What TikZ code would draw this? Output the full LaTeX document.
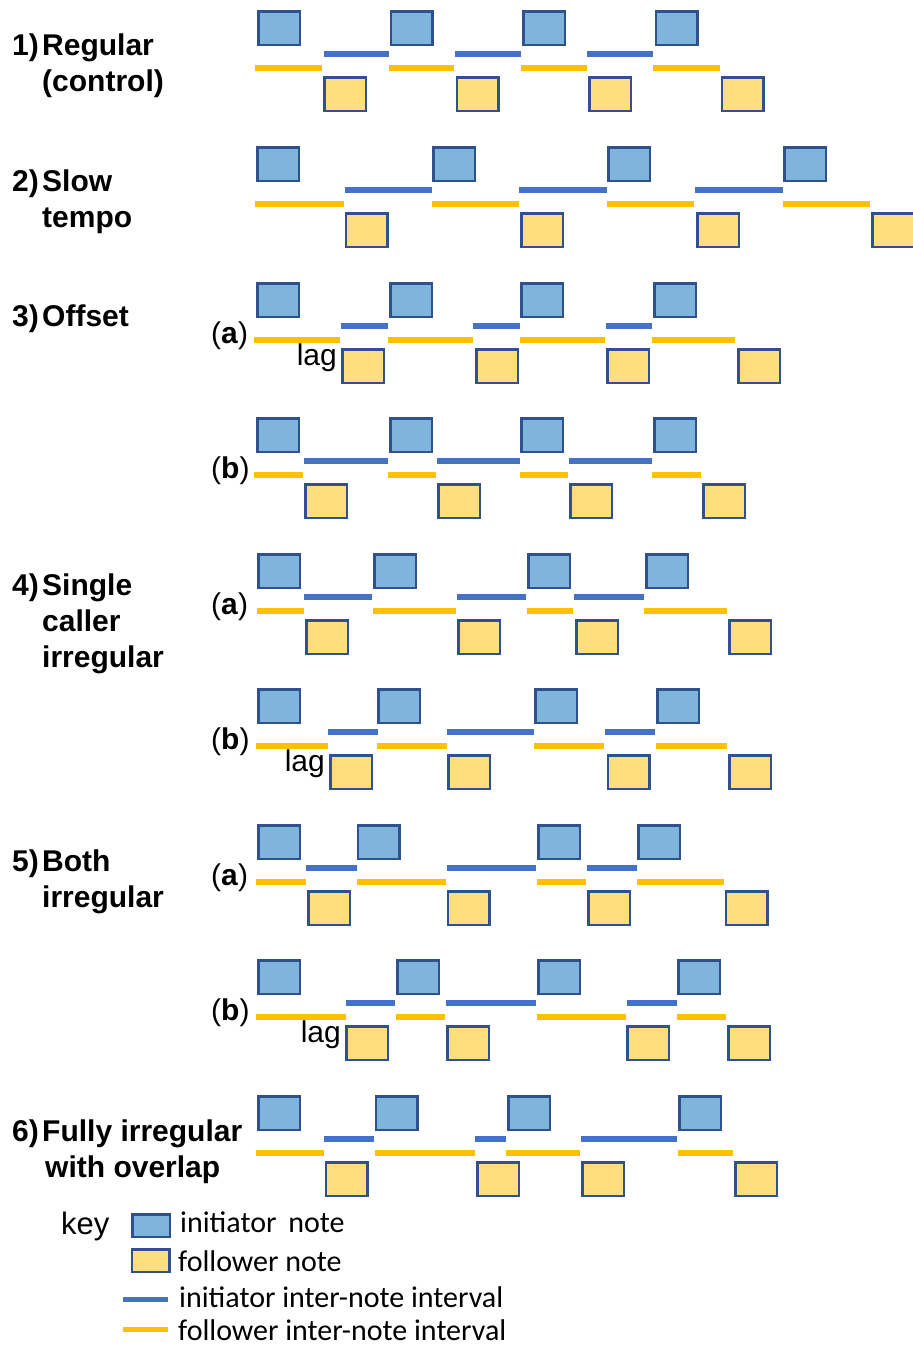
\documentclass[tikz,border=0pt]{standalone}
\usepackage{fontspec}
\setmainfont{Liberation Sans}
\newfontfamily\keyfont{Carlito}
\usetikzlibrary{positioning}
\definecolor{inifill}{RGB}{127,181,221}
\definecolor{folfill}{RGB}{255,222,128}
\definecolor{noteedge}{RGB}{47,82,143}
\definecolor{inibar}{RGB}{68,114,196}
\definecolor{folbar}{RGB}{255,192,0}

\begin{document}
\begin{tikzpicture}[x=1pt, y=-1pt,
  inote/.style={draw=noteedge, line width=2.5pt, fill=inifill, minimum width=41.5pt, minimum height=33.5pt, inner sep=0pt},
  fnote/.style={inote, fill=folfill},
  iint/.style={inibar, line width=5.5pt},
  fint/.style={folbar, line width=5.5pt},
  lbl/.style={anchor=base west, inner sep=0pt, font=\fontsize{30}{36}\selectfont\bfseries},
  sub/.style={anchor=base west, inner sep=0pt, font=\fontsize{30}{36}\selectfont},
  keytxt/.style={anchor=base west, inner sep=0pt, font=\keyfont\fontsize{30}{36}\selectfont}]
\useasboundingbox (0,0) rectangle (913,1345);

% labels of the conditions
\node[lbl] (n1) at (12,55) {1)};
\node[lbl] (t1) at (42,55) {Regular};
\node[lbl] (t1b) at (42,91) {(control)};
\node[lbl] (n2) at (12,191) {2)};
\node[lbl] (t2) at (42,191) {Slow};
\node[lbl] (t2b) at (42,227) {tempo};
\node[lbl] (n3) at (12,326) {3)};
\node[lbl] (t3) at (42,326) {Offset};
\node[lbl] (n4) at (12,595) {4)};
\node[lbl] (t4) at (42,595) {Single};
\node[lbl] (t4b) at (42,631) {caller};
\node[lbl] (t4c) at (42,667) {irregular};
\node[lbl] (n5) at (12,871) {5)};
\node[lbl] (t5) at (42,871) {Both};
\node[lbl] (t5b) at (42,907) {irregular};
\node[lbl] (n6) at (12,1141) {6)};
\node[lbl] (t6) at (42,1141) {Fully irregular};
\node[lbl] (t6b) at (45,1177) {with overlap};

\node[sub] (s3a) at (211,343) {(\textbf{a})};
\node[sub] (s3b) at (211,478) {(\textbf{b})};
\node[sub] (s4a) at (211,614) {(\textbf{a})};
\node[sub] (s4b) at (211,749) {(\textbf{b})};
\node[sub] (s5a) at (211,885) {(\textbf{a})};
\node[sub] (s5b) at (211,1020) {(\textbf{b})};

% 1) regular
\foreach \a/\b in {324/389, 455/521, 587/653} \draw[iint] (\a,54) -- (\b,54);
\foreach \a/\b in {255/322, 389/454, 521/587, 653/720} \draw[fint] (\a,68) -- (\b,68);
\foreach \x [count=\i] in {257,389.5,522,654.5} \node[inote] (r1i\i) at (\x+22,28) {};
\foreach \x [count=\i] in {323,455.5,588,720.5} \node[fnote] (r1f\i) at (\x+22,94) {};

% 2) slow tempo
\foreach \a/\b in {344.5/432, 519/606.5, 695/782.5} \draw[iint] (\a,190) -- (\b,190);
\foreach \a/\b in {255/344, 432/519, 607/694, 783/870} \draw[fint] (\a,204) -- (\b,204);
\foreach \x [count=\i] in {256,432,607,783} \node[inote] (r2i\i) at (\x+22,164) {};
\foreach \x [count=\i] in {344.5,520,696,871} \node[fnote] (r2f\i) at (\x+22,230) {};

% 3a) offset
\foreach \a/\b in {341/388, 473/520, 606/652} \draw[iint] (\a,326) -- (\b,326);
\foreach \a/\b in {254/340, 388/473, 520/605, 652/735} \draw[fint] (\a,340) -- (\b,340);
\foreach \x [count=\i] in {256,389,520,653} \node[inote] (r3ai\i) at (\x+22,300) {};
\foreach \x [count=\i] in {341,475,606,737} \node[fnote] (r3af\i) at (\x+22,366) {};
\node[sub, anchor=base east] (lag3a) at (337,365) {lag};

% 3b)
\foreach \a/\b in {304/388, 437/520, 569/652} \draw[iint] (\a,461) -- (\b,461);
\foreach \a/\b in {254/303, 388/436, 520/568, 652/701} \draw[fint] (\a,475) -- (\b,475);
\foreach \x [count=\i] in {256,389,520,653} \node[inote] (r3bi\i) at (\x+22,435) {};
\foreach \x [count=\i] in {304,437,569,702} \node[fnote] (r3bf\i) at (\x+22,501) {};

% 4a) single caller irregular
\foreach \a/\b in {304/372, 456.5/526, 574/644} \draw[iint] (\a,597) -- (\b,597);
\foreach \a/\b in {257/304, 373/456, 526.5/573, 644/727} \draw[fint] (\a,611) -- (\b,611);
\foreach \x [count=\i] in {257,373,527,645} \node[inote] (r4ai\i) at (\x+22,571) {};
\foreach \x [count=\i] in {305,457,575,728} \node[fnote] (r4af\i) at (\x+22,637) {};

% 4b)
\foreach \a/\b in {328/378, 447/534, 605/655} \draw[iint] (\a,732) -- (\b,732);
\foreach \a/\b in {256/328, 376.5/446.5, 534/604, 656/727} \draw[fint] (\a,746) -- (\b,746);
\foreach \x [count=\i] in {257,377,534,656} \node[inote] (r4bi\i) at (\x+22,706) {};
\foreach \x [count=\i] in {329,447,606.5,728} \node[fnote] (r4bf\i) at (\x+22,772) {};
\node[sub, anchor=base east] (lag4b) at (325,771) {lag};

% 5a) both irregular
\foreach \a/\b in {306/357, 446.5/536, 586.5/636.5} \draw[iint] (\a,868) -- (\b,868);
\foreach \a/\b in {256/306, 357/446, 536.5/586, 637/724} \draw[fint] (\a,882) -- (\b,882);
\foreach \x [count=\i] in {257,356.5,537,637} \node[inote] (r5ai\i) at (\x+22,842) {};
\foreach \x [count=\i] in {307,446.5,587,724.5} \node[fnote] (r5af\i) at (\x+22,908) {};

% 5b)
\foreach \a/\b in {346/395, 446/536, 627/677} \draw[iint] (\a,1003) -- (\b,1003);
\foreach \a/\b in {256/346, 396/445, 536.5/626, 677/726} \draw[fint] (\a,1017) -- (\b,1017);
\foreach \x [count=\i] in {257,396,537,677} \node[inote] (r5bi\i) at (\x+22,977) {};
\foreach \x [count=\i] in {345,446,626,727} \node[fnote] (r5bf\i) at (\x+22,1043) {};
\node[sub, anchor=base east] (lag5b) at (341,1042) {lag};

% 6) fully irregular with overlap
\foreach \a/\b in {324/373.5, 475/506, 580.5/677} \draw[iint] (\a,1139) -- (\b,1139);
\foreach \a/\b in {256/323.5, 374.5/475, 506/580, 678/733} \draw[fint] (\a,1153) -- (\b,1153);
\foreach \x [count=\i] in {257,374.5,507,678} \node[inote] (r6i\i) at (\x+22,1113) {};
\foreach \x [count=\i] in {324.5,476,581,734} \node[fnote] (r6f\i) at (\x+22,1179) {};

% key
\node[sub, font=\fontsize{31}{36}\selectfont] (key) at (61,1234) {key};
\node[inote, minimum width=37.5pt, minimum height=22.5pt] (kini) at (151,1225.5) {};
\node[fnote, minimum width=37.5pt, minimum height=22.5pt] (kfol) at (150.5,1260.5) {};
\coordinate (kib1) at (123,1299.5);
\coordinate (kib2) at (168,1299.5);
\coordinate (kfb1) at (123,1329.5);
\coordinate (kfb2) at (168,1329.5);
\draw[iint, line width=5pt] (kib1) -- (kib2);
\draw[fint, line width=5pt] (kfb1) -- (kfb2);
\node[keytxt] (kinit) at (180,1232) {initiator\hspace{5pt} note};
\node[keytxt] (kfoll) at (178,1271) {follower note};
\node[keytxt] (kiint) at (179,1307) {initiator inter-note interval};
\node[keytxt] (kfint) at (178,1340) {follower inter-note interval};
\end{tikzpicture}
\end{document}
